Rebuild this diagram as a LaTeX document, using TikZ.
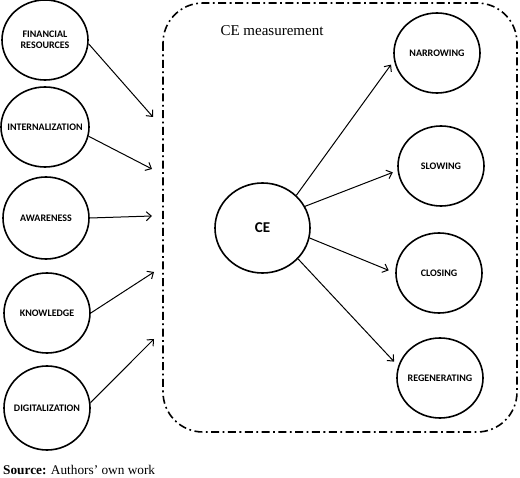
\documentclass[tikz,border=0pt]{standalone}
\usepackage{fontspec}
\setmainfont{Liberation Serif}
\newfontfamily\lblfont{Carlito}
\usetikzlibrary{shapes.geometric,arrows.meta}
\tikzset{
  circ/.style={ellipse,draw,line width=1.6pt,minimum width=86pt,minimum height=80pt,inner ysep=0pt,inner xsep=-14pt,
    font=\lblfont\bfseries\fontsize{10}{11}\selectfont,align=center},
  conn/.style={line width=1pt,-{Straight Barb[length=5pt,width=9pt]}},
  frame/.style={line width=1.6pt,dash pattern=on 8pt off 3.5pt on 1.8pt off 3.5pt,rounded corners=40pt}
}
\begin{document}
\begin{tikzpicture}[x=1pt,y=-1pt]
\useasboundingbox (0,0) rectangle (520,478);
\draw[frame] (163,3) rectangle (517,432);
\node[font=\fontsize{15}{17}\selectfont] (title) at (272,31) {CE measurement};

\node[circ] (fin) at (45,40) {FINANCIAL\\RESOURCES};
\node[circ,minimum width=88pt] (int) at (45,127) {INTERNALIZATION};
\node[circ,minimum height=82pt] (aw) at (46,218) {AWARENESS};
\node[circ] (kn) at (47,313) {KNOWLEDGE};
\node[circ,minimum height=84pt] (dig) at (47,408) {DIGITALIZATION};

\coordinate (e1) at (153,117);
\coordinate (e2) at (152,169);
\coordinate (e3) at (152,216);
\coordinate (e4) at (154,272);
\coordinate (e5) at (154,339);

\draw[conn] (fin.-5) -- (e1);
\draw[conn] (int.-12) -- (e2);
\draw[conn] (aw.east) -- (e3);
\draw[conn] (kn.east) -- (e4);
\draw[conn] (dig.7) -- (e5);

\node[circ,minimum width=95pt,minimum height=90pt,font=\lblfont\bfseries\fontsize{15}{17}\selectfont] (ce) at (262.5,228) {CE};

\node[circ] (nar) at (437,53) {NARROWING};
\node[circ] (slo) at (441,166) {SLOWING};
\node[circ] (clo) at (439,273) {CLOSING};
\node[circ] (reg) at (440,378) {REGENERATING};

\draw[conn,shorten >=5pt] (ce.44) -- (nar.190);
\draw[conn,shorten >=5pt] (ce.27) -- (slo.186);
\draw[conn,shorten >=7pt] (ce.-12) -- (clo.180);
\draw[conn,shorten >=6pt] (ce.-41) -- (reg.164);

\node[anchor=base west,inner sep=0pt,font=\fontsize{13.3}{15}\selectfont] (src) at (3,475) {\textbf{Source:} Authors’ own work};
\end{tikzpicture}
\end{document}
